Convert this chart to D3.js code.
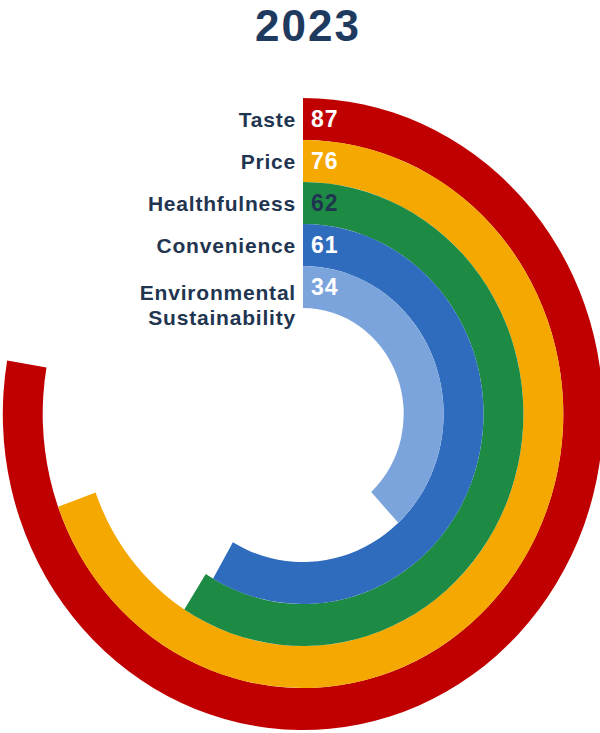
<!DOCTYPE html>
<html>
<head>
<meta charset="utf-8">
<script src="https://cdn.jsdelivr.net/npm/d3@7"></script>
<style>
  body { margin: 0; background: #fff; }
  svg text { font-family: "Liberation Sans", Arial, sans-serif; font-weight: bold; }
</style>
</head>
<body>
<div id="chart"></div>
<script>
// data
const title = '2023'
const categories = ['Taste', 'Price', 'Healthfulness', 'Convenience', 'Environmental Sustainability']
const labelLines = [['Taste'], ['Price'], ['Healthfulness'], ['Convenience'], ['Environmental', 'Sustainability']]
const values = [87, 76, 62, 61, 34]
const colors = ['#c00000', '#f5a800', '#1e8b45', '#2f6cbd', '#7ba4dc']
const valueColors = ['#fff', '#fff', '#1f3550', '#fff', '#fff']

const width = 600, height = 733
const cx = 303, cy = 414
const outerR = 316, innerR = 106

const svg = d3.select('#chart').append('svg')
  .attr('width', width)
  .attr('height', height)

svg.append('text')
  .attr('x', 308)
  .attr('y', 41)
  .attr('text-anchor', 'middle')
  .attr('font-size', 44)
  .attr('letter-spacing', 2)
  .attr('fill', '#1f3a5f')
  .text(title)

// ring per category, outermost first (band start = inner radius)
const r = d3.scaleBand()
  .domain(categories)
  .range([outerR, innerR])
  .paddingInner(0)

// angle scale fitted to how the rings end in the picture
const angle = d3.scaleLinear()
  .domain([0, 100])
  .range([46 * Math.PI / 180, 314.7 * Math.PI / 180])

const arc = d3.arc()
  .innerRadius(d => r(d.cat))
  .outerRadius(d => r(d.cat) + r.bandwidth())
  .startAngle(0)
  .endAngle(d => angle(d.value))

const rows = categories.map((c, i) => ({cat: c, value: values[i], color: colors[i], vcolor: valueColors[i], lines: labelLines[i]}))

const g = svg.append('g')
  .attr('transform', `translate(${cx},${cy}) scale(0.95,1)`)

g.selectAll('path.ring')
  .data(rows)
  .enter()
  .append('path')
  .attr('class', 'ring')
  .attr('d', arc)
  .attr('fill', d => d.color)

// labels and values, centered on each band at the top
const mid = d => cy - (r(d.cat) + r.bandwidth() / 2)

svg.selectAll('text.val')
  .data(rows)
  .enter()
  .append('text')
  .attr('class', 'val')
  .attr('x', 311)
  .attr('y', d => mid(d) + 8)
  .attr('font-size', 23)
  .attr('letter-spacing', 1)
  .attr('fill', d => d.vcolor)
  .text(d => d.value)

const lab = svg.selectAll('text.lab')
  .data(rows)
  .enter()
  .append('text')
  .attr('class', 'lab')
  .attr('x', 296)
  .attr('y', d => mid(d) + 8 + (d.lines.length > 1 ? 5 : 0))
  .attr('text-anchor', 'end')
  .attr('font-size', 21)
  .attr('letter-spacing', 0.8)
  .attr('fill', '#1f3550')

lab.selectAll('tspan')
  .data(d => d.lines)
  .enter()
  .append('tspan')
  .attr('x', 296)
  .attr('dy', (d, i) => i === 0 ? 0 : 25)
  .text(d => d)
</script>
</body>
</html>
